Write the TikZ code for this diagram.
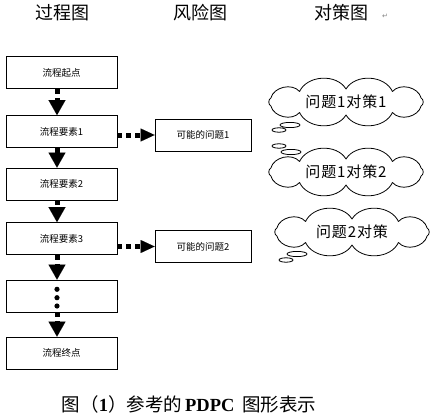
\documentclass[tikz,border=0pt]{standalone}
\usepackage{fontspec}
\setmainfont{Liberation Serif}
\newfontfamily\cjk{Noto Sans CJK SC}
\newfontfamily\cjkspaced[LetterSpace=6]{Noto Sans CJK SC}
\newfontfamily\symfont{DejaVu Sans}
\usetikzlibrary{arrows.meta}
\tikzset{
  procbox/.style={draw, line width=0.8pt, minimum width=111pt, minimum height=32pt, inner sep=0pt,
    font=\cjk\fontsize{9.5}{11}\selectfont},
  riskbox/.style={draw, line width=0.8pt, minimum width=96pt, minimum height=32pt, inner sep=0pt,
    font=\cjk\fontsize{9.5}{11}\selectfont},
  header/.style={inner sep=0pt, font=\cjk\fontsize{18}{20}\selectfont},
  dotarrow/.style={line width=5pt, line cap=butt, dash pattern=on 5pt off 4pt,
    -{Triangle[length=15pt,width=17pt,line width=0.01pt]}},
  hdotarrow/.style={line width=5pt, line cap=butt, dash pattern=on 5pt off 4pt,
    -{Triangle[length=14pt,width=13pt,line width=0.01pt]}},
  cloudtext/.style={inner sep=0pt, font=\cjkspaced\fontsize{15}{17}\selectfont},
  cloudline/.style={line width=0.8pt, line join=round},
}
\newcommand{\cloudaround}[1]{%
  \begin{scope}[shift={(#1)}]
    \draw[cloudline] (18:79 and 13)
      \foreach \a in {54,90,126,162,198,234,270,306,342,378} { to[bend left=62] (\a:79 and 13) } -- cycle;
  \end{scope}}
\begin{document}
\begin{tikzpicture}[x=1pt,y=-1pt]
\useasboundingbox (0,0) rectangle (441,417);
% headers
\node[header] (h1) at (62,13) {过程图};
\node[header] (h2) at (200,13) {风险图};
\node[header] (h3) at (341,13) {对策图};
\node[inner sep=0pt, text=gray, font=\symfont\fontsize{7}{8}\selectfont] (ret) at (385,16) {↵};
% process column
\node[procbox] (p1) at (61.5,72.5) {流程起点};
\node[procbox] (p2) at (61.5,131.5) {流程要素1};
\node[procbox] (p3) at (61.5,184) {流程要素2};
\node[procbox] (p4) at (61.5,238.5) {流程要素3};
\node[procbox] (p5) at (61.5,296) {};
\node[procbox] (p6) at (61.5,353) {流程终点};
\fill (57,289.3) circle (2.6pt) (57,297.7) circle (2.6pt) (57,306) circle (2.6pt);
\coordinate (ax) at (57,0);
\draw[dotarrow] (p1.south -| ax) -- (p2.north -| ax);
\draw[dotarrow] (p2.south -| ax) -- (p3.north -| ax);
\draw[dotarrow] (p3.south -| ax) -- (p4.north -| ax);
\draw[dotarrow] (p4.south -| ax) -- (p5.north -| ax);
\draw[dotarrow] (p5.south -| ax) -- (p6.north -| ax);
% risk column
\node[riskbox] (r1) at (203,135) {可能的问题1};
\node[riskbox] (r2) at (203,246.5) {可能的问题2};
\draw[hdotarrow] (p2.east |- r1.west) -- (r1.west);
\draw[hdotarrow] (p4.east |- r2.west) -- (r2.west);
% countermeasure clouds
\node[cloudtext] (c1) at (346,102) {问题1对策1};
\node[cloudtext] (c2) at (346,172) {问题1对策2};
\node[cloudtext] (c3) at (352,232) {问题2对策};
\cloudaround{c1}
\cloudaround{c2}
\cloudaround{c3}
% thought-bubble tails
\draw[cloudline] (290,125) ellipse (10pt and 2.6pt) (279,130) ellipse (7pt and 2.2pt);
\draw[cloudline] (291,152) ellipse (10pt and 2.6pt) (279,146) ellipse (7pt and 2.2pt);
\draw[cloudline] (297,254) ellipse (10pt and 2.6pt) (286,260) ellipse (7pt and 2.2pt);
% caption
\node[inner sep=0pt, font=\fontsize{18.5}{20}\selectfont] (cap) at (189,404)
  {{\cjk 图（}{\bfseries 1}{\cjk ）参考的}\,{\bfseries PDPC}\ \,{\cjk 图形表示}};
\end{tikzpicture}
\end{document}
